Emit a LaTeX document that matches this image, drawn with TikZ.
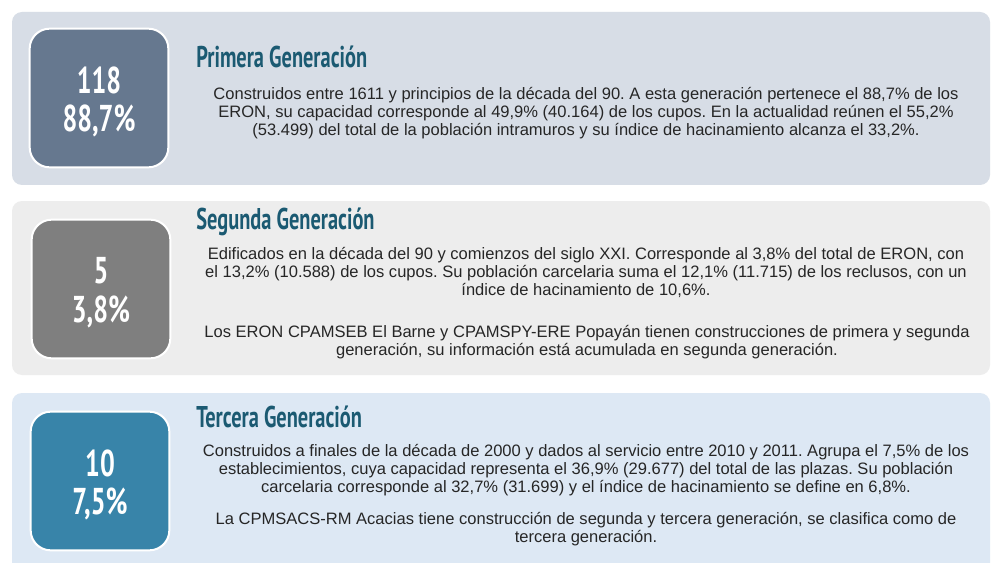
\documentclass[tikz,border=0pt]{standalone}
\usepackage{fontspec}
\setmainfont{Liberation Sans}
\newfontfamily\headfont[FakeStretch=0.68]{PT Sans}
\newfontfamily\figfont[FakeStretch=0.7]{PT Sans}
\usepackage{xcolor}
\usetikzlibrary{positioning}
\definecolor{bandA}{HTML}{D7DDE6}
\definecolor{bandB}{HTML}{EDEDED}
\definecolor{bandC}{HTML}{DDE8F4}
\definecolor{boxA}{HTML}{66788F}
\definecolor{boxB}{HTML}{7F7F7F}
\definecolor{boxC}{HTML}{3884A9}
\definecolor{head}{HTML}{1B5A72}
\definecolor{body}{HTML}{262626}
\tikzset{
  band/.style={rounded corners=7.5pt},
  genbox/.style={draw=white, line width=1.5pt, rounded corners=15pt,
    minimum width=104pt, minimum height=104pt},
  genfig/.style={text=white, align=center, inner sep=0pt,
    font=\figfont\bfseries\fontsize{28}{29}\selectfont},
  gentitle/.style={anchor=west, inner sep=0pt, text=head,
    font=\headfont\bfseries\fontsize{22.5}{24}\selectfont},
  gentext/.style={align=center, inner sep=0pt, text=body,
    font=\fontsize{12.4}{13.5}\selectfont}
}
\begin{document}
\frenchspacing
\begin{tikzpicture}[x=0.75pt, y=-0.75pt]
  \useasboundingbox (0,0) rectangle (992,563);
  \fill[white] (0,0) rectangle (992,563);
  % bands
  \fill[band, bandA] (12,12) rectangle (990,185);
  \fill[band, bandB] (12,201) rectangle (990,375);
  \fill[band, bandC] (12,393) rectangle (990,575);
  % primera
  \node[genbox, fill=boxA] (nA) at (99,98) {};
  \node[genfig] (vA) at ([yshift=-3pt]nA.center) {118\\88,7\%};
  \node[gentitle] (tA) at (196,57) {Primera Generación};
  \node[gentext] (pA) at (586,113) {Construidos entre 1611 y principios de la década del 90. A esta generación pertenece el 88,7\% de los\\
    ERON, su capacidad corresponde al 49,9\% (40.164) de los cupos. En la actualidad reúnen el 55,2\%\\
    (53.499) del total de la población intramuros y su índice de hacinamiento alcanza el 33,2\%.};
  % segunda
  \node[genbox, fill=boxB] (nB) at (101,289) {};
  \node[genfig] (vB) at ([yshift=-3pt]nB.center) {5\\3,8\%};
  \node[gentitle] (tB) at (196,222) {Segunda Generación};
  \node[gentext] (pB) at (586,272) {Edificados en la década del 90 y comienzos del siglo XXI. Corresponde al 3,8\% del total de ERON, con\\
    el 13,2\% (10.588) de los cupos. Su población carcelaria suma el 12,1\% (11.715) de los reclusos, con un\\
    índice de hacinamiento de 10,6\%.};
  \node[gentext] (qB) at (587,342) {Los ERON CPAMSEB El Barne y CPAMSPY-ERE Popayán tienen construcciones de primera y segunda\\
    generación, su información está acumulada en segunda generación.};
  % tercera
  \node[genbox, fill=boxC] (nC) at (100,481) {};
  \node[genfig] (vC) at ([yshift=-3pt]nC.center) {10\\7,5\%};
  \node[gentitle] (tC) at (196,417) {Tercera Generación};
  \node[gentext] (pC) at (586,470) {Construidos a finales de la década de 2000 y dados al servicio entre 2010 y 2011. Agrupa el 7,5\% de los\\
    establecimientos, cuya capacidad representa el 36,9\% (29.677) del total de las plazas. Su población\\
    carcelaria corresponde al 32,7\% (31.699) y el índice de hacinamiento se define en 6,8\%.};
  \node[gentext] (qC) at (586,529) {La CPMSACS-RM Acacias tiene construcción de segunda y tercera generación, se clasifica como de\\
    tercera generación.};
\end{tikzpicture}
\end{document}
